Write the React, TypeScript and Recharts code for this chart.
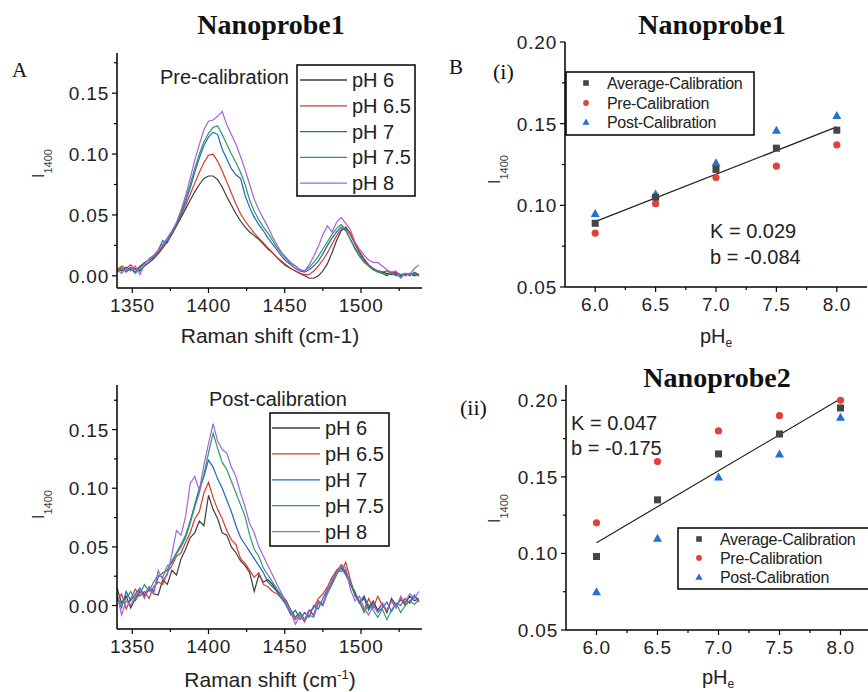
import { LineChart, Line, XAxis, YAxis, ScatterChart, Scatter } from 'recharts';

// Raman shift (cm-1) sampled every 3 units
const SHIFT = [
  1340, 1343, 1346, 1349, 1352, 1355, 1358, 1361, 1364, 1367,
  1370, 1373, 1376, 1379, 1382, 1385, 1388, 1391, 1394, 1397,
  1400, 1403, 1406, 1409, 1412, 1415, 1418, 1421, 1424, 1427,
  1430, 1433, 1436, 1439, 1442, 1445, 1448, 1451, 1454, 1457,
  1460, 1463, 1466, 1469, 1472, 1475, 1478, 1481, 1484, 1487,
  1490, 1493, 1496, 1499, 1502, 1505, 1508, 1511, 1514, 1517,
  1520, 1523, 1526, 1529, 1532, 1535, 1538,
];

const PH_LABELS = ['pH 6', 'pH 6.5', 'pH 7', 'pH 7.5', 'pH 8'];
const PH_COLORS = ['#3c3c3c', '#d8392f', '#2166c2', '#2e9a5d', '#a660dc'];

// pre-calibration spectra
const PRE_PH6 = [
  .006, .004, .007, .005, .006, .004, .008, .011, .014, .018,
  .023, .028, .034, .041, .048, .055, .062, .069, .075, .080,
  .082, .082, .079, .073, .065, .058, .051, .045, .040, .036,
  .033, .030, .026, .022, .019, .015, .011, .008, .006, .004,
  .002, .000, -.002, -.002, .000, .004, .010, .019, .029, .037,
  .040, .035, .027, .020, .014, .009, .006, .004, .003, .002,
  .001, .002, .000, .001, .002, .000, .001,
];
const PRE_PH65 = [
  .005, .008, .006, .009, .005, .007, .010, .013, .015, .019,
  .024, .029, .035, .042, .050, .058, .067, .076, .085, .093,
  .099, .100, .094, .086, .077, .068, .059, .051, .045, .040,
  .035, .031, .027, .023, .019, .015, .012, .009, .006, .004,
  .002, .001, .001, .004, .008, .013, .019, .026, .033, .038,
  .039, .034, .026, .019, .013, .009, .006, .004, .003, .004,
  .002, .003, .001, .002, .001, .002, .000,
];
const PRE_PH7 = [
  .003, .006, .004, .007, .003, .008, .011, .013, .016, .021,
  .029, .027, .036, .042, .051, .061, .072, .085, .097, .107,
  .114, .118, .116, .104, .096, .088, .083, .080, .066, .056,
  .048, .042, .037, .031, .026, .021, .016, .012, .009, .006,
  .004, .003, .005, .008, .012, .018, .025, .031, .036, .040,
  .037, .030, .023, .017, .012, .008, .005, .004, .002, .000,
  .003, .001, -.001, .002, .000, .003, .001,
];
const PRE_PH75 = [
  .004, .007, .003, .006, .002, .006, .010, .013, .015, .020,
  .025, .031, .036, .043, .052, .063, .075, .088, .100, .110,
  .117, .122, .123, .116, .108, .100, .093, .085, .075, .062,
  .053, .046, .040, .035, .029, .023, .018, .014, .010, .008,
  .005, .004, .007, .011, .016, .022, .028, .034, .039, .042,
  .038, .030, .022, .016, .011, .008, .005, .003, .002, .001,
  .002, .000, .001, .000, .002, .001, .000,
];
const PRE_PH8 = [
  .005, .002, .006, .004, .008, .001, .009, .014, .017, .021,
  .026, .031, .037, .044, .054, .066, .080, .095, .108, .120,
  .127, .128, .131, .135, .124, .116, .108, .098, .087, .075,
  .063, .054, .047, .040, .032, .025, .019, .015, .011, .008,
  .005, .004, .009, .016, .024, .034, .041, .036, .044, .048,
  .043, .038, .028, .022, .017, .013, .011, .011, .008, .005,
  .003, .004, -.002, .002, .001, .006, .009,
];

// post-calibration spectra
const POST_PH6 = [
  .015, .002, .008, -.002, .006, .012, .008, .014, .010, .009,
  .022, .018, .030, .026, .040, .048, .058, .062, .072, .068,
  .094, .082, .074, .062, .060, .050, .045, .038, .034, .028,
  .012, .026, .020, .022, .018, .012, .009, .004, -.004, -.010,
  -.006, -.012, -.004, -.008, .004, .001, .012, .020, .030, .034,
  .028, .018, .010, .002, .008, -.002, .004, -.004, .002, -.006,
  .006, .000, .005, .002, .008, .004, .006,
];
const POST_PH65 = [
  .004, .010, -.003, .006, .014, .008, .012, .006, .016, .020,
  .018, .028, .034, .042, .045, .054, .062, .074, .080, .096,
  .105, .092, .082, .074, .064, .056, .052, .040, .036, .030,
  .024, .028, .018, .016, .012, .010, .006, .002, -.006, -.012,
  -.008, -.014, -.005, -.002, .006, .010, .016, .024, .030, .029,
  .037, .022, .010, .004, -.004, .006, -.002, .008, .000, -.004,
  .004, -.002, .006, .000, .004, .008, .003,
];
const POST_PH7 = [
  .006, -.002, .012, .004, .010, .015, .009, .016, .012, .024,
  .028, .030, .038, .045, .052, .060, .072, .086, .100, .110,
  .124, .118, .108, .100, .090, .080, .068, .058, .052, .046,
  .040, .034, .028, .020, .016, .012, .006, .000, -.008, -.004,
  -.012, -.006, -.010, .000, -.003, .006, .014, .020, .028, .032,
  .026, .018, .012, .002, .006, -.004, .002, -.006, -.002, .003,
  -.005, .002, .000, .006, .002, .009, .004,
];
const POST_PH75 = [
  .008, .001, .006, .012, .004, .010, .018, .012, .020, .026,
  .024, .034, .036, .044, .050, .058, .070, .084, .096, .112,
  .130, .147, .134, .122, .116, .106, .096, .086, .076, .060,
  .048, .042, .032, .026, .020, .014, .008, .003, -.004, -.010,
  -.006, -.013, -.008, -.010, .002, .000, .010, .018, .026, .033,
  .030, .020, .008, .003, -.006, .001, -.004, -.010, -.003, -.012,
  -.004, .002, -.006, .000, .004, .001, .005,
];
const POST_PH8 = [
  .010, -.008, .004, .000, .008, .014, .006, .016, .010, .030,
  .022, .026, .044, .064, .060, .076, .104, .110, .098, .120,
  .138, .155, .140, .133, .130, .118, .110, .096, .084, .070,
  .062, .050, .042, .034, .026, .018, .010, .002, -.006, -.016,
  -.008, -.012, -.004, -.009, .004, .000, .012, .022, .028, .035,
  .032, .014, .004, .008, -.002, -.008, .000, -.006, .002, -.004,
  .004, -.002, .008, .003, .010, .006, .012,
];

const SHIFT_MAJOR = [1350, 1400, 1450, 1500];
const SHIFT_MINOR = [1375, 1425, 1475, 1525];
const INT_MAJOR = [0, 0.05, 0.1, 0.15];
const INT_MINOR = [0.025, 0.075, 0.125, 0.175];

// calibration points
const PH = [6.0, 6.5, 7.0, 7.5, 8.0];
const N1_AVG = [0.089, 0.105, 0.122, 0.135, 0.146];
const N1_PRE = [0.083, 0.101, 0.117, 0.124, 0.137];
const N1_POST = [0.095, 0.107, 0.126, 0.146, 0.155];
const N2_AVG = [0.098, 0.135, 0.165, 0.178, 0.195];
const N2_PRE = [0.120, 0.160, 0.180, 0.190, 0.200];
const N2_POST = [0.075, 0.110, 0.150, 0.165, 0.189];
const FIT_X = [6.0, 8.0];
const N1_FIT = [0.090, 0.148];
const N2_FIT = [0.107, 0.201];

const PH_MAJOR = [6.0, 6.5, 7.0, 7.5, 8.0];
const PH_MINOR = [6.25, 6.75, 7.25, 7.75];
const CAL_MAJOR = [0.05, 0.1, 0.15, 0.2];
const CAL_MINOR = [0.075, 0.125, 0.175];

const SANS = '"Liberation Sans", Arial, sans-serif';
const SERIF = '"Liberation Serif", "Times New Roman", serif';
const INK = '#222';
const AVG_COLOR = '#454545';
const PRE_COLOR = '#e2403a';
const POST_COLOR = '#2170d2';

const axisStyle = { stroke: '#000', strokeWidth: 1.5 };

function isMajor(v: number, majors: number[]) {
  return majors.some((m) => Math.abs(m - v) < 1e-6);
}

function XTick(props: any) {
  const { x, y, payload, majors, digits } = props;
  const major = isMajor(payload.value, majors);
  return (
    <g>
      <line x1={x} x2={x} y1={y} y2={y + (major ? 5 : 3)} stroke="#000" strokeWidth={1.2} />
      {major && (
        <text x={x} y={y + 24} textAnchor="middle" fontSize={19} letterSpacing={0.6} fill={INK} fontFamily={SANS}>
          {Number(payload.value).toFixed(digits)}
        </text>
      )}
    </g>
  );
}

function YTick(props: any) {
  const { x, y, payload, majors } = props;
  const major = isMajor(payload.value, majors);
  return (
    <g>
      <line x1={x - (major ? 5 : 3)} x2={x} y1={y} y2={y} stroke="#000" strokeWidth={1.2} />
      {major && (
        <text x={x - 8} y={y + 7} textAnchor="end" fontSize={19} letterSpacing={0.8} fill={INK} fontFamily={SANS}>
          {Number(payload.value).toFixed(2)}
        </text>
      )}
    </g>
  );
}

type SpectraProps = {
  top: number;
  series: number[][];
  yDomain: [number, number];
  plotTop: number;
  plotBottom: number;
};

function Spectra({ top, series, yDomain, plotTop, plotBottom }: SpectraProps) {
  const height = 346;
  const rows = SHIFT.map((s, i) => {
    const r: Record<string, number> = { s };
    series.forEach((arr, k) => {
      r['k' + k] = arr[i];
    });
    return r;
  });
  return (
    <div style={{ position: 'absolute', left: 0, top, width: 430, height }}>
      <LineChart
        width={430}
        height={height}
        data={rows}
        margin={{ top: plotTop, right: 8, bottom: height - plotBottom - 30, left: 0 }}
      >
        <XAxis
          dataKey="s"
          type="number"
          domain={[1340, 1540]}
          allowDataOverflow
          ticks={[...SHIFT_MAJOR, ...SHIFT_MINOR]}
          interval={0}
          height={30}
          tickSize={0}
          tickMargin={0}
          tickLine={false}
          axisLine={axisStyle}
          tick={(p: any) => <XTick {...p} majors={SHIFT_MAJOR} digits={0} />}
        />
        <YAxis
          type="number"
          domain={yDomain}
          allowDataOverflow
          ticks={[...INT_MAJOR, ...INT_MINOR]}
          interval={0}
          width={117}
          tickSize={0}
          tickMargin={0}
          tickLine={false}
          axisLine={axisStyle}
          tick={(p: any) => <YTick {...p} majors={INT_MAJOR} />}
        />
        {series.map((_, k) => (
          <Line
            key={k}
            type="linear"
            dataKey={'k' + k}
            stroke={PH_COLORS[k]}
            strokeWidth={1.2}
            dot={false}
            isAnimationActive={false}
          />
        ))}
      </LineChart>
    </div>
  );
}

const squareShape = (p: any) => <rect x={p.cx - 3.5} y={p.cy - 3.5} width={7} height={7} fill={AVG_COLOR} />;
const circleShape = (p: any) => <circle cx={p.cx} cy={p.cy} r={3.6} fill={PRE_COLOR} />;
const triangleShape = (p: any) => (
  <polygon points={`${p.cx},${p.cy - 4.5} ${p.cx + 4.5},${p.cy + 3.5} ${p.cx - 4.5},${p.cy + 3.5}`} fill={POST_COLOR} />
);
const noShape = () => <g />;

type CalProps = {
  top: number;
  width: number;
  avg: number[];
  pre: number[];
  post: number[];
  fit: number[];
  yDomain: [number, number];
  plotTop: number;
  plotBottom: number;
  yWidth: number;
  right: number;
};

function Calibration({ top, width, avg, pre, post, fit, yDomain, plotTop, plotBottom, yWidth, right }: CalProps) {
  const height = 346;
  const pts = (ys: number[]) => PH.map((x, i) => ({ x, y: ys[i] }));
  const fitPts = FIT_X.map((x, i) => ({ x, y: fit[i] }));
  return (
    <div style={{ position: 'absolute', left: 434, top, width, height }}>
      <ScatterChart
        width={width}
        height={height}
        margin={{ top: plotTop, right, bottom: height - plotBottom - 30, left: 0 }}
      >
        <XAxis
          dataKey="x"
          type="number"
          domain={[5.75, 8.25]}
          allowDataOverflow
          ticks={[...PH_MAJOR, ...PH_MINOR]}
          interval={0}
          height={30}
          tickSize={0}
          tickMargin={0}
          tickLine={false}
          axisLine={axisStyle}
          tick={(p: any) => <XTick {...p} majors={PH_MAJOR} digits={1} />}
        />
        <YAxis
          dataKey="y"
          type="number"
          domain={yDomain}
          allowDataOverflow
          ticks={[...CAL_MAJOR, ...CAL_MINOR]}
          interval={0}
          width={yWidth}
          tickSize={0}
          tickMargin={0}
          tickLine={false}
          axisLine={axisStyle}
          tick={(p: any) => <YTick {...p} majors={CAL_MAJOR} />}
        />
        <Scatter data={fitPts} line={{ stroke: '#222', strokeWidth: 1.2 }} shape={noShape} isAnimationActive={false} />
        <Scatter data={pts(pre)} shape={circleShape} isAnimationActive={false} />
        <Scatter data={pts(post)} shape={triangleShape} isAnimationActive={false} />
        <Scatter data={pts(avg)} shape={squareShape} isAnimationActive={false} />
      </ScatterChart>
    </div>
  );
}

function PhLegend({ x, y, w, h, lx1, lx2, tx, cy, step }: any) {
  return (
    <g>
      <rect x={x} y={y} width={w} height={h} fill="#fff" stroke="#000" strokeWidth={1.5} />
      {PH_LABELS.map((label, i) => (
        <g key={label}>
          <line x1={lx1} x2={lx2} y1={cy + i * step} y2={cy + i * step} stroke={PH_COLORS[i]} strokeWidth={1.3} />
          <text x={tx} y={cy + i * step + 7} fontSize={20} fill={INK} fontFamily={SANS}>
            {label}
          </text>
        </g>
      ))}
    </g>
  );
}

function CalLegend({ x, y, w, h, mx, tx, cys }: any) {
  const names = ['Average-Calibration', 'Pre-Calibration', 'Post-Calibration'];
  const shapes = [squareShape, circleShape, triangleShape];
  return (
    <g>
      <rect x={x} y={y} width={w} height={h} fill="#fff" stroke="#000" strokeWidth={1.5} />
      {names.map((n, i) => (
        <g key={n}>
          <g transform={`translate(${mx},${cys[i]}) scale(0.8)`}>{shapes[i]({ cx: 0, cy: 0 })}</g>
          <text x={tx} y={cys[i] + 6} fontSize={16} letterSpacing={-0.3} fill={INK} fontFamily={SANS}>
            {n}
          </text>
        </g>
      ))}
    </g>
  );
}

function ILabel({ x, y }: { x: number; y: number }) {
  return (
    <text transform={`translate(${x},${y}) rotate(-90)`} fontSize={16} fill="#444" fontFamily={SANS}>
      I
      <tspan fontSize={11} dy={8}>
        1400
      </tspan>
    </text>
  );
}

export default function App() {
  return (
    <div style={{ position: 'absolute', left: 0, top: 0, width: 868, height: 692, background: '#fff', overflow: 'hidden' }}>
      <Spectra
        top={0}
        series={[PRE_PH6, PRE_PH65, PRE_PH7, PRE_PH75, PRE_PH8]}
        yDomain={[-0.01, 0.183]}
        plotTop={53}
        plotBottom={288}
      />
      <Spectra
        top={346}
        series={[POST_PH6, POST_PH65, POST_PH7, POST_PH75, POST_PH8]}
        yDomain={[-0.02, 0.188]}
        plotTop={39}
        plotBottom={283}
      />
      <Calibration
        top={0}
        width={434}
        avg={N1_AVG}
        pre={N1_PRE}
        post={N1_POST}
        fit={N1_FIT}
        yDomain={[0.05, 0.2]}
        plotTop={42}
        plotBottom={287}
        yWidth={131}
        right={1}
      />
      <Calibration
        top={346}
        width={440}
        avg={N2_AVG}
        pre={N2_PRE}
        post={N2_POST}
        fit={N2_FIT}
        yDomain={[0.05, 0.21]}
        plotTop={39}
        plotBottom={284}
        yWidth={132}
        right={3}
      />
      <svg width={868} height={692} style={{ position: 'absolute', left: 0, top: 0, pointerEvents: 'none' }}>
        <g fontFamily={SERIF} fill="#111">
          <text x={271} y={34} textAnchor="middle" fontSize={28} fontWeight="bold">Nanoprobe1</text>
          <text x={712} y={34} textAnchor="middle" fontSize={28} fontWeight="bold">Nanoprobe1</text>
          <text x={717} y={387} textAnchor="middle" fontSize={28} fontWeight="bold">Nanoprobe2</text>
          <text x={12} y={77} fontSize={21}>A</text>
          <text x={449} y={74} fontSize={21}>B</text>
          <text x={493} y={79} fontSize={22}>(i)</text>
          <text x={460} y={415} fontSize={22}>(ii)</text>
        </g>
        <g fontFamily={SANS} fill={INK}>
          <text x={160} y={84} fontSize={20}>Pre-calibration</text>
          <text x={209} y={406} fontSize={20}>Post-calibration</text>
          <text x={270} y={343} textAnchor="middle" fontSize={21}>Raman shift (cm-1)</text>
          <text x={270} y={687} textAnchor="middle" fontSize={21}>
            Raman shift (cm
            <tspan fontSize={13} dy={-8}>-1</tspan>
            <tspan dy={8}>)</tspan>
          </text>
          <text x={700} y={343} fontSize={20}>
            pH<tspan fontSize={12} dy={4}>e</tspan>
          </text>
          <text x={702} y={684} fontSize={20}>
            pH<tspan fontSize={12} dy={4}>e</tspan>
          </text>
          <text x={710} y={238} fontSize={20}>K = 0.029</text>
          <text x={710} y={264} fontSize={20}>b = -0.084</text>
          <text x={571} y={430} fontSize={20}>K = 0.047</text>
          <text x={571} y={455} fontSize={20}>b = -0.175</text>
        </g>
        <ILabel x={44} y={178} />
        <ILabel x={44} y={519} />
        <ILabel x={500} y={184} />
        <ILabel x={500} y={523} />
        <PhLegend x={297} y={65} w={118} h={131} lx1={300} lx2={347} tx={352} cy={80} step={25.8} />
        <PhLegend x={270} y={413} w={119} h={133} lx1={272} lx2={320} tx={325} cy={428} step={25.9} />
        <CalLegend x={566} y={72} w={188} h={63} mx={586} tx={607} cys={[83, 103, 122]} />
        <CalLegend x={678} y={528} w={194} h={61} mx={699} tx={720} cys={[539, 558, 577]} />
      </svg>
    </div>
  );
}
